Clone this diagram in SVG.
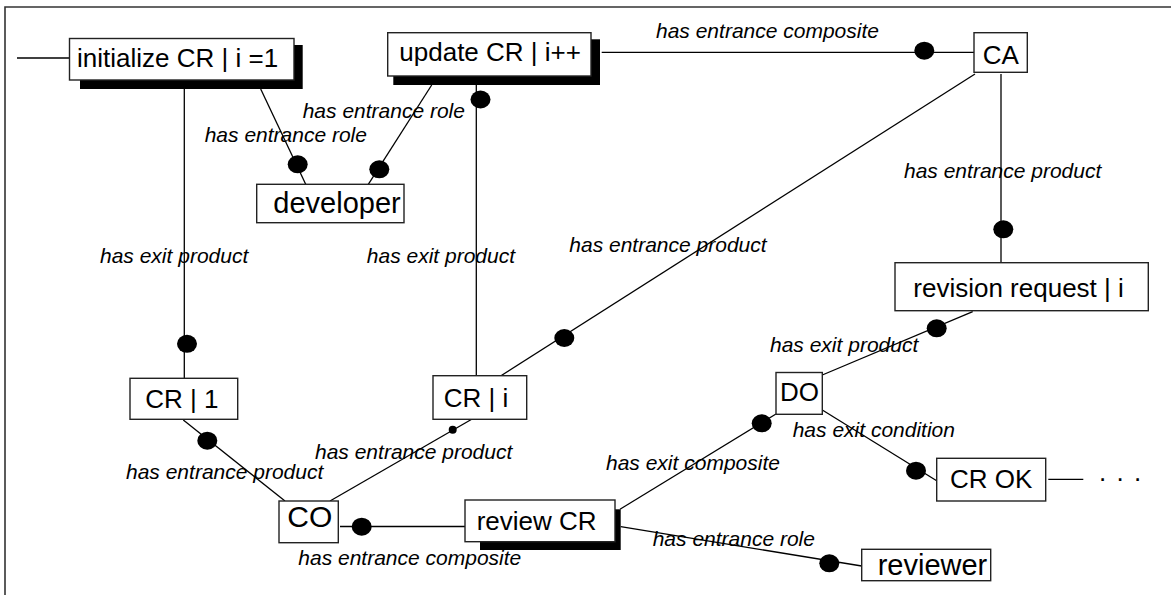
<svg xmlns="http://www.w3.org/2000/svg" width="1171" height="595" viewBox="0 0 1171 595">
<style>
.frame{stroke:#333;stroke-width:1.6;fill:none}
.box{fill:#fff;stroke:#222;stroke-width:1.4}
.shadow{fill:#000;stroke:none}
.node{font-family:"Liberation Sans",Arial,sans-serif;font-size:26px;fill:#000}
.big{font-size:29px}
.lbl{font-family:"Liberation Sans",Arial,sans-serif;font-size:21px;font-style:italic;fill:#000}
.conn line{stroke:#000;stroke-width:1.3}
.dot{fill:#000}
</style>
<rect width="1171" height="595" fill="#fff"/>
<path class="frame" d="M5,595 V7 H1171"/>
<g id="connectors" class="conn">
<line x1="17" y1="58" x2="69.5" y2="58"/>
<line x1="184.3" y1="89" x2="184.3" y2="378.3"/>
<ellipse class="dot" cx="187" cy="343.8" rx="10" ry="9"/>
<line x1="260.7" y1="89" x2="305.7" y2="184.3"/>
<ellipse class="dot" cx="297.7" cy="164.3" rx="10" ry="9"/>
<line x1="431.7" y1="85" x2="368.3" y2="184.3"/>
<ellipse class="dot" cx="379.3" cy="169.3" rx="10" ry="9"/>
<line x1="476.3" y1="85" x2="476.3" y2="375.7"/>
<ellipse class="dot" cx="480.5" cy="99.5" rx="10" ry="9"/>
<line x1="601.7" y1="52.3" x2="974" y2="52.3"/>
<ellipse class="dot" cx="924.3" cy="50.7" rx="10" ry="9"/>
<line x1="975" y1="74" x2="501" y2="375.7"/>
<ellipse class="dot" cx="564.3" cy="338" rx="10" ry="9"/>
<line x1="1001" y1="74" x2="1001" y2="262.7"/>
<ellipse class="dot" cx="1003.3" cy="229.3" rx="10" ry="9"/>
<line x1="972.7" y1="311.7" x2="822.3" y2="375"/>
<ellipse class="dot" cx="936.7" cy="328.3" rx="10" ry="9"/>
<line x1="183.3" y1="420" x2="285" y2="501"/>
<ellipse class="dot" cx="207.3" cy="440.7" rx="10" ry="9"/>
<line x1="471.7" y1="419.3" x2="330" y2="501"/>
<ellipse class="dot" cx="452.7" cy="429.8" rx="4" ry="4"/>
<line x1="340" y1="526.5" x2="465" y2="526.5"/>
<ellipse class="dot" cx="361.7" cy="526.7" rx="10" ry="9"/>
<line x1="620" y1="509.3" x2="776" y2="414"/>
<ellipse class="dot" cx="761.7" cy="423.3" rx="10" ry="9"/>
<line x1="620.7" y1="526.7" x2="861.7" y2="566"/>
<ellipse class="dot" cx="829.3" cy="563.3" rx="10" ry="9"/>
<line x1="822.3" y1="410" x2="938.3" y2="481.7"/>
<ellipse class="dot" cx="916" cy="470.7" rx="10" ry="9"/>
<line x1="1048.3" y1="479.3" x2="1083.3" y2="479.3"/>
</g>
<g id="labels">
<text class="lbl" x="204.7" y="141.7">has entrance role</text>
<text class="lbl" x="302.7" y="118.3">has entrance role</text>
<text class="lbl" x="656" y="38.3">has entrance composite</text>
<text class="lbl" x="904" y="178.3">has entrance product</text>
<text class="lbl" x="100" y="262.7">has exit product</text>
<text class="lbl" x="366.8" y="263.3">has exit product</text>
<text class="lbl" x="569.3" y="251.7">has entrance product</text>
<text class="lbl" x="770" y="351.7">has exit product</text>
<text class="lbl" x="126" y="479">has entrance product</text>
<text class="lbl" x="315" y="459.3">has entrance product</text>
<text class="lbl" x="298.3" y="565">has entrance composite</text>
<text class="lbl" x="606" y="470">has exit composite</text>
<text class="lbl" x="652.7" y="546">has entrance role</text>
<text class="lbl" x="792.7" y="436.7">has exit condition</text>
</g>
<g id="n-init">
<rect class="shadow" x="80" y="45" width="222.7" height="44"/>
<rect class="box" x="69.5" y="38.5" width="224.5" height="41.5"/>
<text class="node" x="77" y="67">initialize CR | i =1</text>
</g>
<g id="n-update">
<rect class="shadow" x="393.3" y="39.3" width="206.7" height="45.7"/>
<rect class="box" x="387.7" y="32.7" width="203.3" height="43.3"/>
<text class="node" x="399.3" y="61">update CR | i++</text>
</g>
<g id="n-ca">
<rect class="box" x="974" y="32.7" width="53.3" height="39.6"/>
<text class="node" x="982.7" y="64">CA</text>
</g>
<g id="n-developer">
<rect class="box" x="256.7" y="184.3" width="147.3" height="38.4"/>
<text class="node big" x="273.3" y="213.3">developer</text>
</g>
<g id="n-cr1">
<rect class="box" x="130" y="378.3" width="107.7" height="41"/>
<text class="node" x="145.3" y="408">CR | 1</text>
</g>
<g id="n-cri">
<rect class="box" x="433" y="375.7" width="93.7" height="43.6"/>
<text class="node" x="443.7" y="407">CR | i</text>
</g>
<g id="n-revision">
<rect class="box" x="895" y="262.7" width="253.3" height="48"/>
<text class="node" x="913.3" y="296.7">revision request | i</text>
</g>
<g id="n-do">
<rect class="box" x="776" y="372.5" width="46.3" height="41.8"/>
<text class="node" x="780" y="401">DO</text>
</g>
<g id="n-co">
<rect class="box" x="279" y="501" width="59.3" height="41.7"/>
<text class="node" x="287.3" y="526.7" style="font-size:30px">CO</text>
</g>
<g id="n-review">
<rect class="shadow" x="480" y="509.3" width="140.7" height="40.7"/>
<rect class="box" x="465" y="500" width="150" height="41.7"/>
<text class="node" x="476.7" y="530">review CR</text>
</g>
<g id="n-crok">
<rect class="box" x="936.7" y="458.3" width="109" height="42.7"/>
<text class="node" x="950" y="488.3">CR OK</text>
</g>
<g id="n-reviewer">
<rect class="box" x="861.7" y="549.3" width="129" height="31.4"/>
<text class="node big" x="877.7" y="575">reviewer</text>
</g>
<g id="ellipsis">
<text class="node" x="1099 1108 1116.4 1125 1134" y="480.7">. . .</text>
</g>
</svg>
